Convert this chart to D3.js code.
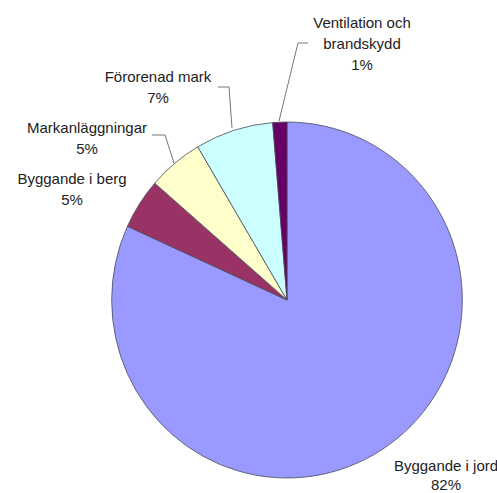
<!DOCTYPE html>
<html>
  <head>
    <meta charset="utf-8" />
    <style>
      body { margin: 0; background: #fff; }
      text {
        font: 15px "Liberation Sans", Arial, sans-serif;
        fill: #222;
      }
      .leader { stroke: #777; stroke-width: 1; fill: none; }
    </style>
  </head>
  <body>
    <svg width="497" height="493"></svg>
    <script src="https://d3js.org/d3.v7.min.js"></script>
    <script>
      // slice data, clockwise from 12 o'clock
      var categories = ["Byggande i jord", "Byggande i berg", "Markanläggningar", "Förorenad mark", "Ventilation och brandskydd"];
      var values = [81.8, 4.6, 5.1, 7.2, 1.3];
      var percentLabels = ["82%", "5%", "5%", "7%", "1%"];
      var colors = ["#9999FF", "#993366", "#FFFFCC", "#CCFFFF", "#660066"];

      // label layout (lines of text, anchor position, leader line points)
      var labelLayout = [
        { lines: ["Byggande i jord", "82%"], x: 446, y: 471, gap: 19, leader: null },
        { lines: ["Byggande i berg", "5%"], x: 72, y: 184, gap: 21, leader: null },
        { lines: ["Markanläggningar", "5%"], x: 87, y: 133, gap: 21, leader: [[152, 135], [165, 135], [174, 163]] },
        { lines: ["Förorenad mark", "7%"], x: 158, y: 82, gap: 21, leader: [[218, 87], [229, 87], [232, 128]] },
        { lines: ["Ventilation och", "brandskydd", "1%"], x: 362, y: 28, gap: 21, leader: [[308, 43], [298, 43], [279, 121]] }
      ];

      var svg = d3.select("svg");
      var cx = 287, cy = 300, r = 178;

      var pie = d3.pie().sort(null).value(function (d) { return d; });
      var arc = d3.arc().innerRadius(0).outerRadius(r);

      var g = svg.append("g").attr("transform", "translate(" + cx + "," + cy + ") scale(0.985,1)");

      g.selectAll("path")
        .data(pie(values))
        .enter()
        .append("path")
        .attr("d", arc)
        .attr("fill", function (d, i) { return colors[i]; })
        .attr("stroke", "#4a4a5a")
        .attr("stroke-width", 0.8);

      var line = d3.line();
      svg.selectAll("path.leader")
        .data(labelLayout.filter(function (d) { return d.leader; }))
        .enter()
        .append("path")
        .attr("class", "leader")
        .attr("d", function (d) { return line(d.leader); });

      var labels = svg.selectAll("text.lbl")
        .data(labelLayout)
        .enter()
        .append("text")
        .attr("class", "lbl")
        .attr("text-anchor", "middle")
        .attr("x", function (d) { return d.x; })
        .attr("y", function (d) { return d.y; });

      labels.each(function (d, i) {
        var t = d3.select(this);
        var lines = d.lines.slice(0, -1).concat([percentLabels[i]]);
        lines.forEach(function (s, j) {
          t.append("tspan")
            .attr("x", d.x)
            .attr("dy", j === 0 ? 0 : d.gap)
            .text(s);
        });
      });
    </script>
  </body>
</html>
